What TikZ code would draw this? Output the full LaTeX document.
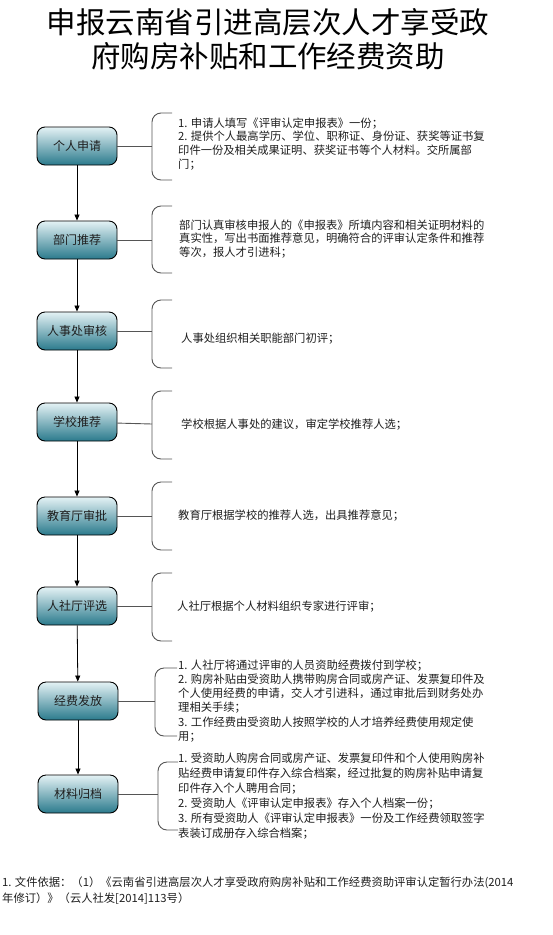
\documentclass[tikz,border=0pt]{standalone}
\usepackage{fontspec}
\setmainfont{Noto Sans CJK SC}
\usepackage{xcolor}
\usetikzlibrary{arrows.meta, positioning, calc}
\definecolor{boxtop}{RGB}{228,242,245}
\definecolor{boxbot}{RGB}{42,122,140}
\definecolor{bracegray}{RGB}{85,85,85}
\definecolor{textcol}{RGB}{30,30,30}
\tikzset{
  stepbox/.style={
    rectangle, rounded corners=8pt, draw=black, line width=0.9pt,
    top color=boxtop, bottom color=boxbot,
    minimum width=80pt, minimum height=38pt, inner sep=0pt,
    font=\fontsize{12}{14}\selectfont, text=textcol
  },
  notetext/.style={
    anchor=west, align=left, inner sep=0pt,
    font=\fontsize{11.3}{13.8}\selectfont, text=textcol
  },
  flowline/.style={draw=black, line width=0.8pt, -{Triangle[length=6pt, width=5pt]}},
  linkline/.style={draw=bracegray, line width=0.9pt},
  bracket/.style={draw=bracegray, line width=0.9pt, rounded corners=9pt}
}
\begin{document}
\begin{tikzpicture}[x=1pt, y=-1pt]
  \useasboundingbox (0,0) rectangle (553,935);

  % Title
  \node[align=center, font=\fontsize{29.5}{34}\selectfont] (title) at (268,39)
    {申报云南省引进高层次人才享受政\\府购房补贴和工作经费资助};

  % Steps
  \node[stepbox] (apply)      at (77,146) {个人申请};
  \node[stepbox] (deptrec)    at (77,240) {部门推荐};
  \node[stepbox] (hrcheck)    at (77,331) {人事处审核};
  \node[stepbox] (schoolrec)  at (77,422) {学校推荐};
  \node[stepbox] (eduapprove) at (77,516) {教育厅审批};
  \node[stepbox] (hrssselect) at (77,606) {人社厅评选};
  \node[stepbox] (fundpay)    at (78,701) {经费发放};
  \node[stepbox] (archive)    at (78,794) {材料归档};

  % Step transitions
  \draw[flowline] (apply) -- (deptrec);
  \draw[flowline] (deptrec) -- (hrcheck);
  \draw[flowline] (hrcheck) -- (schoolrec);
  \draw[flowline] (schoolrec) -- (eduapprove);
  \draw[flowline] (eduapprove) -- (hrssselect);
  \draw[flowline] (hrssselect) -- (fundpay);
  \draw[flowline] (fundpay) -- (archive);

  % Brackets and their joints
  \coordinate (j1) at (152,146);
  \coordinate (j2) at (152,240);
  \coordinate (j3) at (152,331);
  \coordinate (j4) at (152,424);
  \coordinate (j5) at (152,516);
  \coordinate (j6) at (152,606);
  \coordinate (j7) at (155,701);
  \coordinate (j8) at (158,794);
  \draw[bracket] (172,113) -- (152,113) -- (152,180) -- (172,180);
  \draw[bracket] (172,206) -- (152,206) -- (152,273) -- (172,273);
  \draw[bracket] (172,300) -- (152,300) -- (152,368) -- (172,368);
  \draw[bracket] (172,391) -- (152,391) -- (152,459) -- (172,459);
  \draw[bracket] (172,482) -- (152,482) -- (152,550) -- (172,550);
  \draw[bracket] (172,573) -- (152,573) -- (152,641) -- (172,641);
  \draw[bracket] (177,668) -- (155,668) -- (155,736) -- (177,736);
  \draw[bracket] (178,762) -- (158,762) -- (158,830) -- (178,830);
  \draw[linkline] (apply) -- (j1);
  \draw[linkline] (deptrec) -- (j2);
  \draw[linkline] (hrcheck) -- (j3);
  \draw[linkline] (schoolrec) -- (j4);
  \draw[linkline] (eduapprove) -- (j5);
  \draw[linkline] (hrssselect) -- (j6);
  \draw[linkline] (fundpay) -- (j7);
  \draw[linkline] (archive) -- (j8);

  % Notes
  \node[notetext] (note1) at (178,144) {1. 申请人填写《评审认定申报表》一份；\\
    2. 提供个人最高学历、学位、职称证、身份证、获奖等证书复\\
    印件一份及相关成果证明、获奖证书等个人材料。交所属部\\门；};
  \node[notetext] (note2) at (179,239) {部门认真审核申报人的《申报表》所填内容和相关证明材料的\\
    真实性，写出书面推荐意见，明确符合的评审认定条件和推荐\\
    等次，报人才引进科；};
  \node[notetext] (note3) at (181,339) {人事处组织相关职能部门初评；};
  \node[notetext] (note4) at (181,425) {学校根据人事处的建议，审定学校推荐人选；};
  \node[notetext] (note5) at (178,516) {教育厅根据学校的推荐人选，出具推荐意见；};
  \node[notetext] (note6) at (177,607) {人社厅根据个人材料组织专家进行评审；};
  \node[notetext, font=\fontsize{11.3}{14.2}\selectfont] (note7) at (178,701)
    {1. 人社厅将通过评审的人员资助经费拨付到学校；\\
    2. 购房补贴由受资助人携带购房合同或房产证、发票复印件及\\
    个人使用经费的申请，交人才引进科，通过审批后到财务处办\\
    理相关手续；\\
    3. 工作经费由受资助人按照学校的人才培养经费使用规定使\\用；};
  \node[notetext, font=\fontsize{11.3}{15}\selectfont] (note8) at (178,796)
    {1. 受资助人购房合同或房产证、发票复印件和个人使用购房补\\
    贴经费申请复印件存入综合档案，经过批复的购房补贴申请复\\
    印件存入个人聘用合同；\\
    2. 受资助人《评审认定申报表》存入个人档案一份；\\
    3. 所有受资助人《评审认定申报表》一份及工作经费领取签字\\
    表装订成册存入综合档案；};

  % Footnote
  \node[notetext, font=\fontsize{11.3}{16}\selectfont] (source) at (2,891)
    {1. 文件依据：（1）《云南省引进高层次人才享受政府购房补贴和工作经费资助评审认定暂行办法(2014\\
    年修订）》（云人社发[2014]113号）};
\end{tikzpicture}
\end{document}
